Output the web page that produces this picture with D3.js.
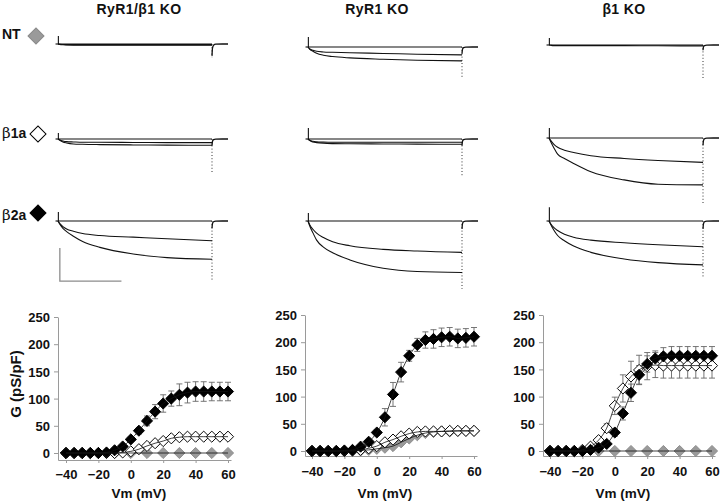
<!DOCTYPE html>
<html><head><meta charset="utf-8">
<script src="https://cdn.jsdelivr.net/npm/d3@7"></script>
<style>body{margin:0;background:#fff} svg{display:block;font-family:"Liberation Sans",Arial,sans-serif}</style>
</head><body><svg id="c" width="720" height="502"></svg>
<script>
// ---------------- DATA ----------------
const columnTitles = ["RyR1/β1 KO", "RyR1 KO", "β1 KO"];
const conditionLabels = ["NT", "β1a", "β2a"];

// current traces: time samples (ms) and currents (pA/pF, inward negative)
const traceTimes = [0, 3, 8, 14, 25, 40, 68, 122, 177, 250];
const traces_RyR1b1KO_NT = [
  [0, 0, 0, 0, 0, 0, 0, 0, 0, 0],
  [0, -0.1, -0.15, -0.2, -0.2, -0.2, -0.2, -0.2, -0.2, -0.2],
  [0, -0.15, -0.25, -0.3, -0.35, -0.35, -0.35, -0.35, -0.35, -0.35]];
const traces_RyR1b1KO_b1a = [
  [0, 0, 0, 0, 0, 0, 0, 0, 0, 0],
  [0, -0.3, -0.6, -0.8, -0.9, -1.0, -1.0, -1.05, -1.1, -1.1],
  [0, -0.4, -0.9, -1.2, -1.5, -1.6, -1.7, -1.8, -1.85, -1.9]];
const traces_RyR1b1KO_b2a = [
  [0, 0, 0, 0, 0, 0, 0, 0, 0, 0],
  [0, -0.8, -1.7, -2.4, -3.1, -3.8, -4.4, -4.9, -5.4, -6.0],
  [0, -1.0, -2.2, -3.2, -4.6, -6.2, -8.0, -10.0, -11.1, -11.6]];
const traces_RyR1KO_NT = [
  [0, 0, 0, 0, 0, 0, 0, 0, 0, 0],
  [0, -0.6, -1.0, -1.3, -1.5, -1.6, -1.75, -1.95, -2.2, -2.4],
  [0, -0.7, -1.3, -1.9, -2.5, -2.9, -3.3, -3.7, -4.0, -4.2]];
const traces_RyR1KO_b1a = [
  [0, 0, 0, 0, 0, 0, 0, 0, 0, 0],
  [0, -0.4, -0.7, -0.85, -0.95, -1.0, -1.0, -1.0, -1.0, -1.0],
  [0, -0.5, -0.9, -1.1, -1.3, -1.4, -1.45, -1.5, -1.55, -1.6]];
const traces_RyR1KO_b2a = [
  [0, 0, 0, 0, 0, 0, 0, 0, 0, 0],
  [0, -1.2, -2.5, -3.7, -5.0, -6.3, -7.5, -8.6, -9.1, -9.5],
  [0, -1.6, -3.6, -5.8, -7.9, -9.6, -11.8, -14.3, -15.3, -15.6]];
const traces_b1KO_NT = [
  [0, 0, 0, 0, 0, 0, 0, 0, 0, 0],
  [0, -0.1, -0.2, -0.2, -0.2, -0.2, -0.2, -0.2, -0.25, -0.25]];
const traces_b1KO_b1a = [
  [0, 0, 0, 0, 0, 0, 0, 0, 0, 0],
  [0, -0.8, -1.9, -2.8, -3.7, -4.4, -5.4, -6.2, -6.8, -7.4],
  [0, -1.2, -3.0, -4.9, -6.2, -7.7, -10.2, -12.7, -14.0, -14.2]];
const traces_b1KO_b2a = [
  [0, 0, 0, 0, 0, 0, 0, 0, 0, 0],
  [0, -0.9, -2.0, -2.9, -4.0, -4.9, -5.8, -6.6, -7.2, -7.8],
  [0, -1.1, -2.8, -4.4, -6.0, -7.6, -9.5, -11.5, -12.6, -13.3]];
// capacitive spike height and tail-current depth per panel (pA/pF), rows NT, b1a, b2a
const spike_RyR1b1KO = [2.4, 1.8, 2.7];
const spike_RyR1KO = [3.0, 3.3, 2.4];
const spike_b1KO = [2.1, 3.0, 4.2];
const tail_RyR1b1KO = [4.0, 10.3, 17.9];
const tail_RyR1KO = [9.7, 11.5, 20.6];
const tail_b1KO = [10.6, 20.3, 17.3];
const hook_RyR1b1KO = [3.6, 2.0, 2.2];
const hook_RyR1KO = [2.0, 2.0, 2.4];
const hook_b1KO = [1.6, 2.2, 2.4];
const scaleBarTime = 100;   // ms
const scaleBarCurrent = 10; // pA/pF

// conductance-voltage data
const vm = [-40, -35, -30, -25, -20, -15, -10, -5, 0, 5, 10, 15, 20, 25, 30, 35, 40, 45, 50, 55, 60];
const vmNT = [-40, -30, -20, -10, 0, 10, 20, 30, 40, 50, 60];
const xTicks = [-40, -20, 0, 20, 40, 60];
const yTicks = [0, 50, 100, 150, 200, 250];

const g_RyR1b1KO_b2a = [0, 0, 0, 0, 0, 1, 5, 12, 25, 41, 59, 76, 91, 100, 107, 111, 113, 113, 113, 113, 113];
const e_RyR1b1KO_b2a = [0, 0, 0, 0, 0, 0, 1, 2, 4, 6, 9, 13, 16, 14, 20, 19, 18, 18, 17, 17, 17];
const g_RyR1b1KO_b1a = [0, 0, 0, 0, 0, 0, 0, 1, 3, 7, 13, 18, 22, 27, 29, 30, 30, 30, 30, 30, 30];
const g_RyR1b1KO_NT = [0, 0, 0, 0, 0, 0, 0, 0, 0, 0, 0];

const g_RyR1KO_b2a = [0, 0, 0, 0, 1, 2, 8, 17, 34, 62, 104, 145, 175, 195, 204, 206, 209, 210, 207, 208, 210];
const e_RyR1KO_b2a = [0, 0, 0, 0, 0, 1, 2, 3, 5, 16, 22, 18, 10, 12, 15, 17, 17, 17, 17, 17, 17];
const g_RyR1KO_b1a = [0, 0, 0, 0, 0, 1, 2, 5, 9, 16, 21, 27, 32, 35, 36, 36, 36, 37, 37, 37, 37];
const g_RyR1KO_NT = [0, 0, 0, 0, 0, 0, 1, 2, 4, 6, 9, 16, 23, 29, 33, 35, 36, 36, 37, 37, 37];

const g_b1KO_b2a = [0, 0, 0, 0, 0, 2, 6, 13, 34, 69, 107, 140, 160, 170, 174, 175, 175, 175, 175, 175, 175];
const e_b1KO_b2a = [0, 0, 0, 0, 0, 1, 2, 3, 7, 12, 16, 17, 15, 14, 16, 17, 17, 17, 17, 17, 17];
const g_b1KO_b1a = [0, 0, 0, 0, 2, 8, 20, 42, 83, 115, 137, 149, 156, 158, 157, 157, 157, 157, 157, 157, 157];
const e_b1KO_b1a = [0, 0, 0, 0, 0, 2, 4, 8, 16, 25, 28, 27, 25, 23, 23, 23, 23, 23, 23, 23, 23];
const g_b1KO_NT = [0, 0, 0, 0, 0, 0, 0, 0, 0, 0, 0];

// ---------------- DRAWING ----------------
const svg = d3.select("#c");
const FONT = '"Liberation Sans", Arial, sans-serif';

// column titles
const titleX = [139, 377, 624];
svg.selectAll("text.title").data(columnTitles).join("text")
  .attr("class", "title").attr("x", (d, i) => titleX[i]).attr("y", 14)
  .attr("text-anchor", "middle").attr("font-size", 14).attr("font-weight", "bold")
  .attr("letter-spacing", 0.4).attr("fill", "#111").text(d => d);

// row labels with legend diamonds
const rowLabelY = [39, 138, 220];
const legendFill = ["#9a9a9a", "#ffffff", "#000000"];
const legendStroke = ["#8a8a8a", "#000000", "#000000"];
const legendPos = [[36, 36], [38, 134], [38, 213]];
conditionLabels.forEach((lab, i) => {
  const t = svg.append("text").attr("x", 2).attr("y", rowLabelY[i])
    .attr("font-size", 14).attr("font-weight", "bold").attr("fill", "#111");
  if (lab.startsWith("β")) {
    t.append("tspan").attr("font-weight", "normal").attr("font-family", "'DejaVu Serif', serif").attr("font-size", 15).text("β");
    t.append("tspan").text(lab.slice(1));
  } else t.text(lab);
  svg.append("path").attr("d", d3.symbol(d3.symbolSquare, 128)())
    .attr("transform", `translate(${legendPos[i][0]},${legendPos[i][1]}) rotate(45)`)
    .attr("fill", legendFill[i]).attr("stroke", legendStroke[i]).attr("stroke-width", 1);
});

// traces
const traceSets = [
  [traces_RyR1b1KO_NT, traces_RyR1b1KO_b1a, traces_RyR1b1KO_b2a],
  [traces_RyR1KO_NT, traces_RyR1KO_b1a, traces_RyR1KO_b2a],
  [traces_b1KO_NT, traces_b1KO_b1a, traces_b1KO_b2a]];
const spikes = [spike_RyR1b1KO, spike_RyR1KO, spike_b1KO];
const tails = [tail_RyR1b1KO, tail_RyR1KO, tail_b1KO];
const hooks = [hook_RyR1b1KO, hook_RyR1KO, hook_b1KO];
const traceX0 = [58, 308, 549];
const traceBase = [[44, 139, 221], [47, 139, 221], [45, 138, 221]];
const pxPerMs = 154 / 250, pxPerUnit = 3.3;

traceSets.forEach((col, c) => {
  const tx = d3.scaleLinear().domain([0, 250]).range([traceX0[c], traceX0[c] + 250 * pxPerMs]);
  col.forEach((set, r) => {
    const base = traceBase[c][r];
    const ty = d3.scaleLinear().domain([0, -10]).range([base, base + 10 * pxPerUnit]);
    const g = svg.append("g");
    const line = d3.line().x(d => tx(d[0])).y(d => ty(d[1])).curve(d3.curveMonotoneX);
    // dotted fast tail
    g.append("line").attr("x1", tx(250)).attr("x2", tx(250))
      .attr("y1", ty(0)).attr("y2", ty(-tails[c][r]))
      .attr("stroke", "#333").attr("stroke-width", 1).attr("stroke-dasharray", "1,2.2");
    // holding + spike
    g.append("path").attr("d", line([[-4, 0], [0, 0]]))
      .attr("stroke", "#111").attr("fill", "none").attr("stroke-width", 1.1);
    g.append("line").attr("x1", tx(0.6)).attr("x2", tx(0.6))
      .attr("y1", ty(spikes[c][r])).attr("y2", ty(0))
      .attr("stroke", "#111").attr("stroke-width", 1.1);
    set.forEach(vals => {
      g.append("path").attr("d", line(traceTimes.map((t, k) => [t, vals[k]])))
        .attr("stroke", "#111").attr("fill", "none").attr("stroke-width", 1.1);
    });
    // tail hook
    const h = hooks[c][r];
    g.append("path").attr("d", line([[250, -h], [250.8, -h * 0.35], [252.5, -h * 0.1], [256, -0.02], [276, 0]]))
      .attr("stroke", "#111").attr("fill", "none").attr("stroke-width", 1.3);
    // scale bar (first column, bottom row)
    if (c === 0 && r === 2) {
      const t0 = 3, i0 = -18.2;
      svg.append("path")
        .attr("d", `M${tx(t0)},${ty(i0 + scaleBarCurrent)}V${ty(i0)}H${tx(t0 + scaleBarTime)}`)
        .attr("fill", "none").attr("stroke", "#8c8c8c").attr("stroke-width", 1.3);
    }
  });
});

// G-V plots
const gvPanels = [
  {b2a: g_RyR1b1KO_b2a, eb2a: e_RyR1b1KO_b2a, b1a: g_RyR1b1KO_b1a, eb1a: null, nt: g_RyR1b1KO_NT, ntX: vmNT,
   xr: [66, 228], y0: 453, axisX: 58, axisY: 460, pad: 7},
  {b2a: g_RyR1KO_b2a, eb2a: e_RyR1KO_b2a, b1a: g_RyR1KO_b1a, eb1a: null, nt: g_RyR1KO_NT, ntX: vm,
   xr: [312, 474], y0: 451, axisX: 305, axisY: 456, pad: 8},
  {b2a: g_b1KO_b2a, eb2a: e_b1KO_b2a, b1a: g_b1KO_b1a, eb1a: e_b1KO_b1a, nt: g_b1KO_NT, ntX: vmNT,
   xr: [550, 712], y0: 451, axisX: 543, axisY: 456, pad: 8}];

const yPxPerUnit = 136 / 250;
gvPanels.forEach((p, i) => {
  const pxPerMv = (p.xr[1] - p.xr[0]) / 100;
  const xLeft = -40 - (p.xr[0] - p.axisX) / pxPerMv;
  const xRight = 60 + 3 / pxPerMv;
  const x = d3.scaleLinear().domain([xLeft, xRight]).range([p.axisX, p.xr[1] + 3]);
  const yBottom = -(p.axisY - p.y0) / yPxPerUnit;
  const y = d3.scaleLinear().domain([yBottom, 250]).range([p.axisY, p.y0 - 250 * yPxPerUnit]);
  const g = svg.append("g");

  const ya = g.append("g").attr("transform", `translate(${p.axisX},0)`)
    .call(d3.axisLeft(y).tickValues(yTicks).tickSize(4).tickSizeOuter(0).tickPadding(4));
  const xa = g.append("g").attr("transform", `translate(0,${p.axisY})`)
    .call(d3.axisBottom(x).tickValues(xTicks).tickSize(3).tickSizeOuter(0).tickPadding(p.pad));
  [ya, xa].forEach(a => {
    a.select(".domain").attr("stroke", "#9a9a9a").attr("stroke-width", 1);
    a.selectAll(".tick line").attr("stroke", "#9a9a9a");
    a.selectAll(".tick text").attr("font-family", FONT).attr("font-size", 13)
      .attr("font-weight", "bold").attr("fill", "#111");
  });
  ya.selectAll(".tick text").attr("dy", "0.36em");

  g.append("text").attr("x", (p.xr[0] + p.xr[1]) / 2 - 8).attr("y", 498)
    .attr("text-anchor", "middle").attr("font-size", 13.5).attr("font-weight", "bold")
    .attr("fill", "#111").text("Vm (mV)");
  if (i === 0) {
    g.append("text").attr("transform", "translate(21,384) rotate(-90)")
      .attr("text-anchor", "middle").attr("font-size", 15).attr("font-weight", "bold")
      .attr("fill", "#111").text("G (pS/pF)");
  }

  const series = [
    {xs: p.ntX, ys: p.nt, err: null, fill: "#9a9a9a", stroke: "#8a8a8a"},
    {xs: vm, ys: p.b1a, err: p.eb1a, fill: "#ffffff", stroke: "#000"},
    {xs: vm, ys: p.b2a, err: p.eb2a, fill: "#000000", stroke: "#000"}];

  // error bars
  series.forEach(s => {
    if (!s.err) return;
    const eg = g.append("g").attr("stroke", "#666").attr("stroke-width", 0.9);
    s.xs.forEach((v, k) => {
      const e = s.err[k];
      if (!e) return;
      const cx = x(v), yt = y(s.ys[k] + e), yb = y(s.ys[k] - e);
      eg.append("line").attr("x1", cx).attr("x2", cx).attr("y1", yt).attr("y2", yb);
      eg.append("line").attr("x1", cx - 3).attr("x2", cx + 3).attr("y1", yt).attr("y2", yt);
      eg.append("line").attr("x1", cx - 3).attr("x2", cx + 3).attr("y1", yb).attr("y2", yb);
    });
  });
  // markers
  const sym = d3.symbol(d3.symbolSquare, 62)();
  series.forEach(s => {
    g.append("g").selectAll("path").data(s.xs.map((v, k) => [v, s.ys[k]])).join("path")
      .attr("d", sym).attr("transform", d => `translate(${x(d[0])},${y(d[1])}) rotate(45)`)
      .attr("fill", s.fill).attr("stroke", s.stroke).attr("stroke-width", 0.9);
  });
  // fit lines
  const ln = d3.line().x(d => x(d[0])).y(d => y(d[1])).curve(d3.curveMonotoneX);
  series.forEach(s => {
    g.append("path").attr("d", ln(s.xs.map((v, k) => [v, s.ys[k]])))
      .attr("fill", "none").attr("stroke", "#111").attr("stroke-width", 0.8);
  });
});
</script></body></html>
